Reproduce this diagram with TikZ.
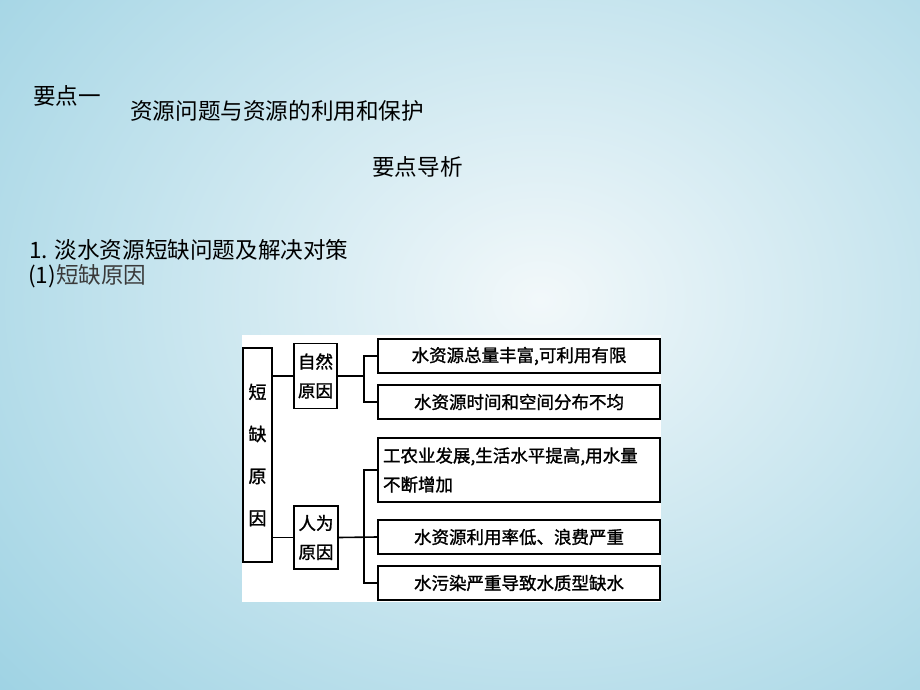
\documentclass[tikz,border=0pt]{standalone}
\usepackage{fontspec}
\newfontfamily\cjk{Noto Sans CJK SC}
\newfontfamily\cjkb[FakeBold=1.3]{Noto Sans CJK SC}
\definecolor{bgouter}{HTML}{9DD2E3}
\definecolor{bginner}{HTML}{F2F8FA}
\definecolor{softtext}{HTML}{3A3A3A}
\tikzset{
  title/.style={anchor=west,inner sep=0pt,font=\cjk\fontsize{22.6}{26}\selectfont},
  box/.style={draw=black,line width=1.7pt,fill=white,inner sep=0pt,font=\cjkb\fontsize{17.5}{29}\selectfont},
  wire/.style={draw=black,line width=1.6pt}
}
\begin{document}
\begin{tikzpicture}[x=1pt,y=-1pt]
\useasboundingbox (0,0) rectangle (920,690);
\fill[bgouter] (0,0) rectangle (920,690);
\begin{scope}
\clip (0,0) rectangle (920,690);
\shade[inner color=bginner,outer color=bgouter] (-200,-300) rectangle (1280,900);
\end{scope}
% titles
\node[title] (t1) at (33,96) {要点一};
\node[title] (t2) at (130,111) {资源问题与资源的利用和保护};
\node[title] (t3) at (372,167) {要点导析};
\node[title] (t4) at (29,250) {1. 淡水资源短缺问题及解决对策};
\node[title] (t5) at (28,276) {(1)\textcolor{softtext}{短缺原因}};
% panel
\fill[white] (242,335) rectangle (661,602);
% boxes
\node[box,minimum width=29pt,minimum height=214pt,align=center,
  font=\cjkb\fontsize{18}{42}\selectfont] (L) at (257.5,455) {短\\缺\\原\\因};
\node[box,minimum width=43pt,minimum height=65pt,align=center] (N) at (315.5,376) {自然\\原因};
\node[box,minimum width=44pt,minimum height=63pt,align=center] (H) at (316,537.5) {人为\\原因};
\node[box,minimum width=282pt,minimum height=34pt] (B1) at (519,356) {水资源总量丰富,可利用有限};
\node[box,minimum width=282pt,minimum height=34pt] (B2) at (519,402) {水资源时间和空间分布不均};
\node[box,minimum width=282pt,minimum height=64pt,align=left,text width=272pt] (B3) at (519,470) {工农业发展,生活水平提高,用水量\\不断增加};
\node[box,minimum width=282pt,minimum height=34pt] (B4) at (519,537) {水资源利用率低、浪费严重};
\node[box,minimum width=282pt,minimum height=34pt] (B5) at (519,583) {水污染严重导致水质型缺水};
% connectors
\coordinate (jn) at ([xshift=26pt]N.east);
\coordinate (jh) at ([xshift=25pt]H.east);
\draw[wire] (N.west) -- (N.west -| L.east);
\draw[wire] (H.west) -- (H.west -| L.east);
\draw[wire] (N.east) -- (jn);
\draw[wire] (B1.west) -| (jn) |- (B2.west);
\draw[wire] (H.east) -- (B4.west);
\draw[wire] (B3.west) -| (jh) |- (B5.west);
\end{tikzpicture}
\end{document}
